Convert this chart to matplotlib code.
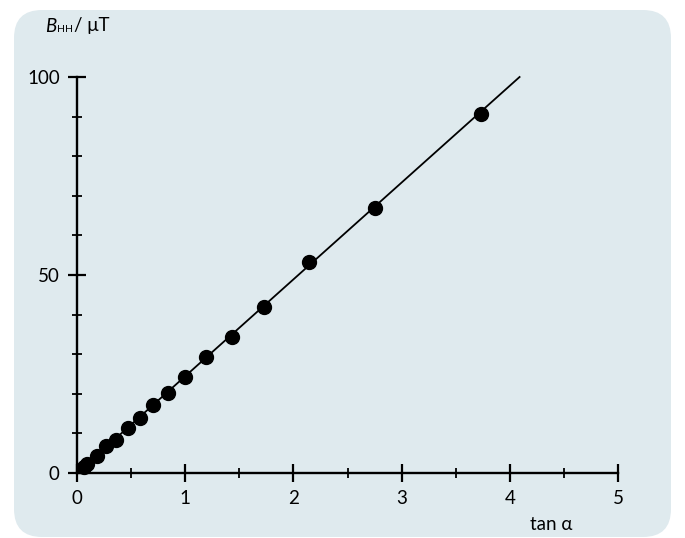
import numpy as np
import matplotlib
matplotlib.use('Agg')
import matplotlib.pyplot as plt
from matplotlib.patches import FancyBboxPatch

plt.rcParams['font.family'] = ['Lato', 'DejaVu Sans']

# measured points: tan(alpha) vs B_HH in microtesla
tan_alpha = [0.06, 0.09, 0.18, 0.27, 0.36, 0.47, 0.58, 0.70, 0.84, 1.00,
             1.19, 1.43, 1.73, 2.14, 2.75, 3.73]
b_hh = [1.4, 2.2, 4.3, 6.8, 8.3, 11.4, 13.9, 17.2, 20.2, 24.2,
        29.3, 34.3, 41.9, 53.3, 66.9, 90.7]

# fitted line through origin
fit_x = [0, 4.09]
fit_y = [0, 100]

x_major = [0, 1, 2, 3, 4, 5]
x_minor = [0.5, 1.5, 2.5, 3.5, 4.5]
y_major = [0, 50, 100]
y_minor = [10, 20, 30, 40, 60, 70, 80, 90]

bg = '#dfeaee'

fig = plt.figure(figsize=(6.85, 5.38), dpi=100)
fig.patch.set_facecolor('white')

# rounded panel behind the chart (pixel coords)
panel = FancyBboxPatch((14, 1), 657, 527,
                       boxstyle='round,pad=0,rounding_size=28',
                       transform=None, facecolor=bg, edgecolor='none', zorder=0)
fig.add_artist(panel)

ax = fig.add_axes([0.0809, 0.084, 0.9003, 0.8465])
ax.set_facecolor('none')
ax.set_xlim(-0.2, 5.5)
ax.set_ylim(-5, 110)

ax.plot(fit_x, fit_y, color='black', lw=1.3, zorder=2)
ax.plot(tan_alpha, b_hh, 'o', color='black', ms=10, zorder=3)

for s in ['top', 'right']:
    ax.spines[s].set_visible(False)
ax.spines['left'].set_position(('data', 0))
ax.spines['bottom'].set_position(('data', 0))
ax.spines['left'].set_bounds(0, 100)
ax.spines['bottom'].set_bounds(0, 5)
for s in ['left', 'bottom']:
    ax.spines[s].set_linewidth(1.7)

ax.set_xticks(x_major)
ax.set_xticks(x_minor, minor=True)
ax.set_yticks(y_major)
ax.set_yticks(y_minor, minor=True)
ax.tick_params(which='major', direction='inout', length=13, width=1.6,
               labelsize=13.5, pad=6)
ax.tick_params(which='minor', direction='inout', length=7, width=1.3)
ax.tick_params(axis='x', which='major', pad=6)

fig.text(45 / 685, 1 - 26 / 538, 'B', fontsize=13.5, style='italic',
         va='center', ha='left')
fig.text(57 / 685, 1 - 30 / 538, 'HH', fontsize=7.5, va='center', ha='left')
fig.text(74 / 685, 1 - 26 / 538, '/ μT', fontsize=13.5, va='center', ha='left')
fig.text(530 / 685, 1 - 525 / 538, 'tan α', fontsize=13.5, va='center', ha='left')

fig.savefig('out.png', dpi=100)
